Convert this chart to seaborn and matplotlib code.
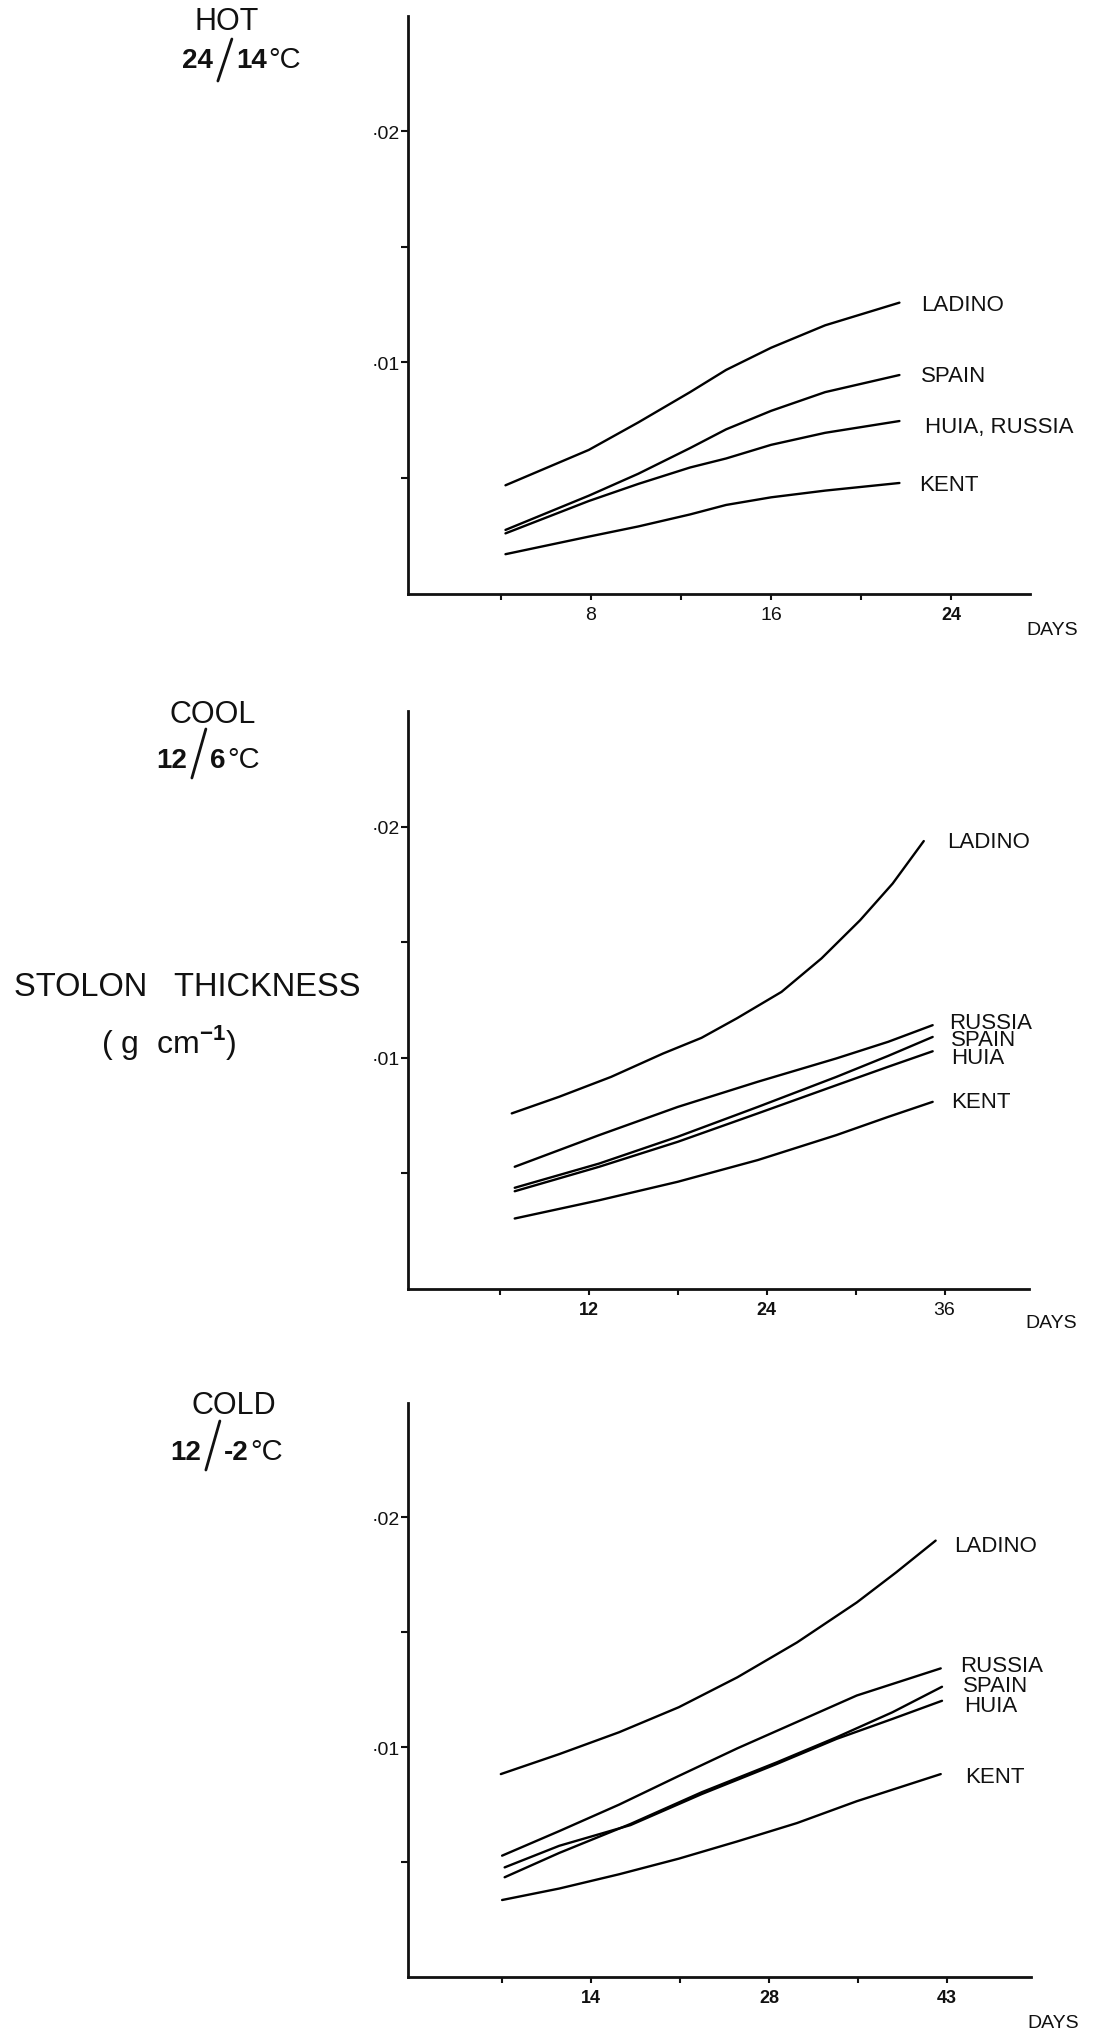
import matplotlib
matplotlib.use("Agg")
import matplotlib.pyplot as plt
import seaborn as sns
import pandas as pd
from matplotlib.lines import Line2D
from matplotlib.ticker import FixedLocator

# ---------------------------------------------------------------- data
# HOT 24/14 C
hot_days = [4.2, 7.9, 10.1, 12.4, 14.0, 16.0, 18.4, 21.7]
hot_ladino = [0.00468, 0.00621, 0.00740, 0.00871, 0.00967, 0.01063, 0.01160, 0.01258]
hot_spain = [0.00275, 0.00423, 0.00518, 0.00629, 0.00710, 0.00790, 0.00871, 0.00945]
hot_huia_russia = [0.00260, 0.00400, 0.00474, 0.00545, 0.00584, 0.00643, 0.00695, 0.00746]
hot_kent = [0.00170, 0.00246, 0.00290, 0.00342, 0.00383, 0.00416, 0.00445, 0.00478]

# COOL 12/6 C
cool_ladino_days = [6.8, 10.0, 13.5, 17.0, 19.6, 22.0, 25.0, 27.7, 30.3, 32.5, 34.6]
cool_ladino = [0.00758, 0.00830, 0.00916, 0.01017, 0.01085, 0.01170, 0.01284, 0.01429,
               0.01594, 0.01753, 0.01937]
cool_days = [7.0, 12.7, 18.0, 23.4, 28.7, 32.2, 35.2]
cool_russia = [0.00527, 0.00664, 0.00786, 0.00895, 0.00996, 0.01068, 0.01140]
cool_spain = [0.00436, 0.00541, 0.00657, 0.00786, 0.00916, 0.01007, 0.01089]
cool_huia = [0.00421, 0.00527, 0.00635, 0.00758, 0.00880, 0.00960, 0.01027]
cool_kent = [0.00303, 0.00382, 0.00462, 0.00556, 0.00664, 0.00743, 0.00808]

# COLD 12/-2 C
cold_ladino_days = [6.9, 11.5, 16.2, 20.9, 25.5, 30.2, 34.9, 38.0, 41.1]
cold_ladino = [0.00883, 0.00970, 0.01065, 0.01174, 0.01304, 0.01456, 0.01630, 0.01761, 0.01899]
cold_days = [7.0, 11.5, 16.2, 20.9, 25.5, 30.2, 34.9, 41.5]
cold_russia = [0.00528, 0.00635, 0.00750, 0.00875, 0.00995, 0.01110, 0.01225, 0.01343]
cold_kent = [0.00335, 0.00385, 0.00447, 0.00515, 0.00590, 0.00670, 0.00765, 0.00883]
cold_sh_days = [7.2, 11.5, 17.1, 22.7, 28.6, 33.3, 37.7, 41.6]
cold_spain = [0.00434, 0.00540, 0.00666, 0.00804, 0.00934, 0.01043, 0.01152, 0.01263]
cold_huia = [0.00477, 0.00571, 0.00661, 0.00796, 0.00927, 0.01036, 0.01123, 0.01202]

# axis ticks
hot_xticks = [4, 8, 12, 16, 20, 24]
hot_xlabels = ["", "8", "", "16", "", "24"]
cool_xticks = [6, 12, 18, 24, 30, 36]
cool_xlabels = ["", "12", "", "24", "", "36"]
cold_xticks = [7, 14, 21, 28, 35, 42]
cold_xlabels = ["", "14", "", "28", "", "43"]
y_major = [0.01, 0.02]
y_major_labels = ["\u00b701", "\u00b702"]
y_minor = [0.005, 0.015]

# ---------------------------------------------------------------- style
sns.set_theme(style="ticks")
plt.rcParams["font.family"] = ["Liberation Sans", "DejaVu Sans"]
plt.rcParams["mathtext.fontset"] = "custom"
plt.rcParams["mathtext.rm"] = "Liberation Sans"
plt.rcParams["mathtext.bf"] = "Liberation Sans:bold"

INK = "#111111"
W, H = 1093, 2031
fig = plt.figure(figsize=(W / 100, H / 100), dpi=100)
fig.patch.set_facecolor("white")


def px_rect(left, top, right, bottom):
    return [left / W, 1 - bottom / H, (right - left) / W, (bottom - top) / H]


def long_frame(series):
    frames = []
    for name, (days, vals) in series.items():
        frames.append(pd.DataFrame({"day": days, "thickness": vals, "variety": name}))
    return pd.concat(frames, ignore_index=True)


def draw_panel(rect, xlim, series, labels, label_dx, label_dy,
               xticks, xlabels, bold_labels, days_dy):
    ax = fig.add_axes(rect)
    df = long_frame(series)
    sns.lineplot(data=df, x="day", y="thickness", hue="variety",
                 palette={k: "black" for k in series}, estimator=None,
                 sort=True, linewidth=1.7, legend=False, ax=ax)
    ax.set_xlim(*xlim)
    ax.set_ylim(0, 0.025)
    ax.set_xlabel("")
    ax.set_ylabel("")
    for s in ("top", "right"):
        ax.spines[s].set_visible(False)
    for s in ("left", "bottom"):
        ax.spines[s].set_linewidth(2.0)
        ax.spines[s].set_color(INK)
    ax.set_facecolor("white")

    ax.yaxis.set_major_locator(FixedLocator(y_major))
    ax.yaxis.set_minor_locator(FixedLocator(y_minor))
    ax.set_yticklabels(y_major_labels)
    ax.tick_params(axis="y", which="both", direction="out", length=5, width=1.5,
                   pad=0.5, labelsize=14, colors=INK)
    ax.set_xticks(xticks)
    ax.set_xticklabels(xlabels)
    ax.tick_params(axis="x", direction="out", length=4, width=1.5, pad=5,
                   labelsize=14, colors=INK)
    for t in ax.get_xticklabels():
        if t.get_text() in bold_labels:
            t.set_fontweight("bold")
            t.set_fontsize(13)

    for (name, (days, vals)), text, dx, dy in zip(series.items(), labels, label_dx, label_dy):
        ax.annotate(text, xy=(days[-1], vals[-1]), xytext=(dx, dy),
                    textcoords="offset pixels", ha="left", va="center",
                    fontsize=16, color=INK)
    ax.annotate("DAYS", xy=(1.0, 0.0), xycoords="axes fraction",
                xytext=(-4, days_dy), textcoords="offset pixels",
                ha="left", va="center", fontsize=14, color=INK)
    return ax


def heading(word, cx, cy):
    fig.text(cx / W, 1 - cy / H, word, ha="center", va="center",
             fontsize=22, color=INK)


def temp_label(left, baseline, numerator, denominator, rise=38, drop=11):
    """Bold 'a / b' with a tall thin slash, followed by a regular degree sign."""
    r = fig.canvas.get_renderer()
    t1 = fig.text(left / W, 1 - baseline / H, numerator, ha="left", va="baseline",
                  fontsize=20, fontweight="bold", color=INK)
    x1 = t1.get_window_extent(r).x1
    # slash drawn as a thin stroke reaching below the baseline
    fig.add_artist(Line2D([x1 + 5, x1 + 19], [H - (baseline + drop), H - (baseline - rise)],
                          transform=None, color=INK, linewidth=2.0,
                          solid_capstyle="round"))
    t2 = fig.text((x1 + 23) / W, 1 - baseline / H, denominator, ha="left",
                  va="baseline", fontsize=20, fontweight="bold", color=INK)
    x2 = t2.get_window_extent(r).x1
    fig.text((x2 + 2) / W, 1 - baseline / H, "\u00b0C", ha="left", va="baseline",
             fontsize=21, color=INK)


# ---------------------------------------------------------------- panels
draw_panel(px_rect(408, 16.5, 1030, 594.5), (-0.13, 27.5),
           {"LADINO": (hot_days, hot_ladino), "SPAIN": (hot_days, hot_spain),
            "HUIA, RUSSIA": (hot_days, hot_huia_russia), "KENT": (hot_days, hot_kent)},
           ["LADINO", "SPAIN", "HUIA, RUSSIA", "KENT"],
           [22, 22, 26, 20], [-1.5, 0, -5, -1.5],
           hot_xticks, hot_xlabels, {"24"}, -36)

draw_panel(px_rect(408, 712, 1029, 1289.5), (-0.2, 41.7),
           {"LADINO": (cool_ladino_days, cool_ladino), "RUSSIA": (cool_days, cool_russia),
            "SPAIN": (cool_days, cool_spain), "HUIA": (cool_days, cool_huia),
            "KENT": (cool_days, cool_kent)},
           ["LADINO", "RUSSIA", "SPAIN", "HUIA", "KENT"],
           [23, 16, 18, 18, 18], [0, 3, -2.5, -6, 0],
           cool_xticks, cool_xlabels, {"12", "24"}, -34)

draw_panel(px_rect(408, 1403.5, 1031, 1978), (-0.4, 48.6),
           {"LADINO": (cold_ladino_days, cold_ladino), "RUSSIA": (cold_days, cold_russia),
            "SPAIN": (cold_sh_days, cold_spain), "HUIA": (cold_sh_days, cold_huia),
            "KENT": (cold_days, cold_kent)},
           ["LADINO", "RUSSIA", "SPAIN", "HUIA", "KENT"],
           [18, 19, 21, 22, 24], [-5, 3, 1, -5, -2],
           cold_xticks, cold_xlabels, {"14", "28", "43"}, -46)

# ---------------------------------------------------------------- headings
heading("HOT", 227, 22)
temp_label(182, 68, "24", "14", rise=28, drop=14)
heading("COOL", 213, 715)
temp_label(156, 768, "12", "6")
heading("COLD", 234, 1406)
temp_label(170, 1460, "12", "-2")

fig.text(187 / W, 1 - 987 / H, "STOLON   THICKNESS", ha="center", va="center",
         fontsize=23.5, color=INK)
fig.text(169 / W, 1 - 1043 / H, r"( g  cm$^{\mathbf{-1}}$)", ha="center", va="center",
         fontsize=23, color=INK)

fig.savefig("out.png", dpi=100, facecolor="white")
